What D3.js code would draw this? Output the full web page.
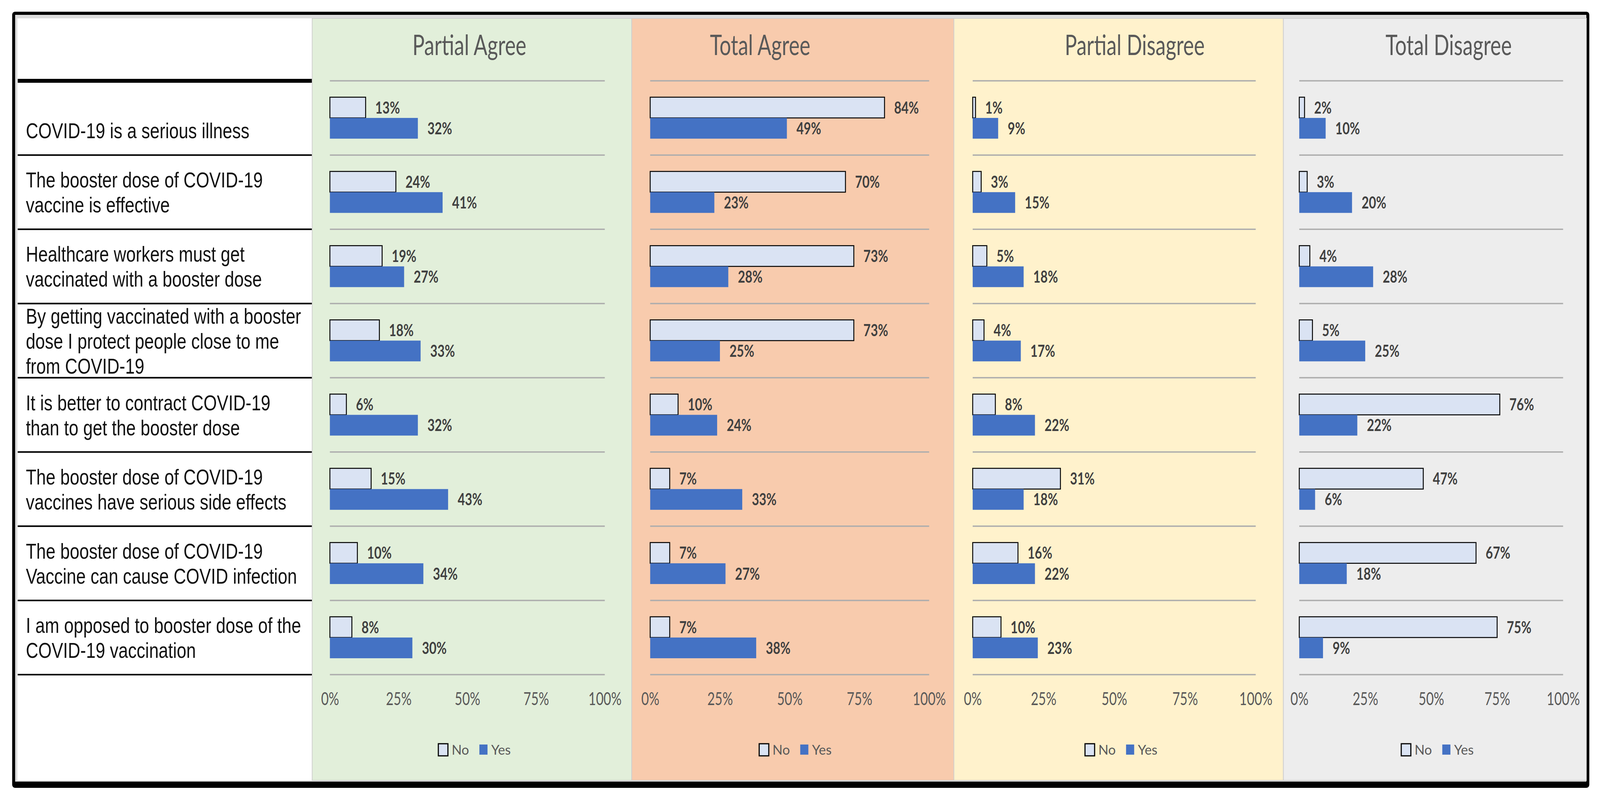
<!DOCTYPE html>
<html>
<head>
<meta charset="utf-8">
<script src="https://cdn.jsdelivr.net/npm/d3@7"></script>
<style>
  html, body { margin: 0; padding: 0; background: #fff; overflow: hidden; }
  #chart svg { display: block; width: 100vw; height: 100vh; }
</style>
</head>
<body>
<div id="chart"></div>
<script>
// Statements (row labels, one entry per line)
const statements = [
  ['', 'COVID-19 is a serious illness'],
  ['The booster dose of COVID-19', 'vaccine is effective'],
  ['Healthcare workers must get', 'vaccinated with a booster dose'],
  ['By getting vaccinated with a booster', 'dose I protect people close to me', 'from COVID-19'],
  ['It is better to contract COVID-19', 'than to get the booster dose'],
  ['The booster dose of COVID-19', 'vaccines have serious side effects'],
  ['The booster dose of COVID-19', 'Vaccine can cause COVID infection'],
  ['I am opposed to booster dose of the', 'COVID-19 vaccination']
];

const panelTitles = ['Partial Agree', 'Total Agree', 'Partial Disagree', 'Total Disagree'];
const seriesNames = ['No', 'Yes'];
const tickValues = [0, 25, 50, 75, 100];

// percentages per panel, one value per statement
const partialAgreeNo = [13, 24, 19, 18, 6, 15, 10, 8];
const partialAgreeYes = [32, 41, 27, 33, 32, 43, 34, 30];
const totalAgreeNo = [84, 70, 73, 73, 10, 7, 7, 7];
const totalAgreeYes = [49, 23, 28, 25, 24, 33, 27, 38];
const partialDisagreeNo = [1, 3, 5, 4, 8, 31, 16, 10];
const partialDisagreeYes = [9, 15, 18, 17, 22, 18, 22, 23];
const totalDisagreeNo = [2, 3, 4, 5, 76, 47, 67, 75];
const totalDisagreeYes = [10, 20, 28, 25, 22, 6, 18, 9];

const panelSeries = [
  [partialAgreeNo, partialAgreeYes],
  [totalAgreeNo, totalAgreeYes],
  [partialDisagreeNo, partialDisagreeYes],
  [totalDisagreeNo, totalDisagreeYes]
];

// layout
const W = 4336, H = 2044;
const panelEdges = [846, 1712, 2585, 3478, 4299];
const plotLeft = [894, 1762, 2636, 3521];
const plotRight = [1639, 2518, 3403, 4236];
const titleX = [1272, 2060, 3075, 3926];
const panelFill = ['#E2EFDA', '#F8CBAD', '#FFF2CC', '#EDEDED'];
const colorNo = '#DAE3F3';
const colorYes = '#4472C4';
const calibri = 'Lato, "Open Sans", sans-serif';
const arial = '"Liberation Sans", Arial, sans-serif';

// viewBox keeps the whole chart in the window whatever its css size
const svg = d3.select('#chart')
    .append('svg')
    .attr('viewBox', `0 0 ${W} ${H}`)
    .attr('preserveAspectRatio', 'none');

// horizontal squeeze so text widths match the reference
function fitScale(family, size, weight, sample, target) {
  const t = svg.append('text')
      .attr('font-family', family)
      .attr('font-size', size)
      .attr('font-weight', weight)
      .text(sample);
  const w = t.node().getComputedTextLength();
  t.remove();
  return target / w;
}

const sTitle = fitScale(calibri, 72, 400, 'Partial Agree', 309);
const sTick = fitScale(calibri, 46, 400, '100%', 90);
const sValue = fitScale(calibri, 42, 700, '13%', 67);
const sLegend = fitScale(calibri, 35, 400, 'Yes', 53);
const sRow = fitScale(arial, 56, 400, 'COVID-19 is a serious illness', 606);

// frame
svg.append('rect')
    .attr('x', 33).attr('y', 30)
    .attr('width', 4274).attr('height', 1988)
    .attr('rx', 8)
    .attr('fill', '#000');
svg.append('rect')
    .attr('x', 41).attr('y', 38)
    .attr('width', 4258).attr('height', 1964)
    .attr('fill', '#DDDDDD');
svg.append('rect')
    .attr('x', 47).attr('y', 47)
    .attr('width', panelEdges[0] - 47).attr('height', 1952)
    .attr('fill', '#fff');

// rows
const y = d3.scaleBand()
    .domain(d3.range(statements.length))
    .range([207, 1728]);
const ySub = d3.scaleBand()
    .domain(seriesNames)
    .range([0, y.bandwidth()])
    .paddingOuter(0.79);
const rowLines = d3.range(statements.length + 1).map(i => y.range()[0] + i * y.step());

// left label column
svg.append('g')
    .selectAll('line')
    .data(rowLines)
    .join('line')
    .attr('x1', 48)
    .attr('x2', panelEdges[0])
    .attr('y1', d => d)
    .attr('y2', d => d)
    .attr('stroke', '#000')
    .attr('stroke-width', (d, i) => i === 0 ? 10 : 4);

const rowFont = 56, lineH = 64;
svg.append('g')
    .selectAll('text')
    .data(statements)
    .join('text')
    .attr('transform', (d, i) => `translate(70,${y(i) + y.bandwidth() / 2}) scale(${sRow},1)`)
    .attr('font-family', arial)
    .attr('font-size', rowFont)
    .attr('fill', '#111')
    .selectAll('tspan')
    .data(d => d.map((line, j) => ({ line, j, n: d.length })))
    .join('tspan')
    .attr('x', 0)
    .attr('y', d => (d.j - (d.n - 1) / 2) * lineH + rowFont * 0.36)
    .text(d => d.line);

// panels
panelTitles.forEach((title, p) => {
  const g = svg.append('g');
  const x = d3.scaleLinear()
      .domain([0, 100])
      .range([plotLeft[p], plotRight[p]]);

  g.append('rect')
      .attr('x', panelEdges[p])
      .attr('y', 47)
      .attr('width', panelEdges[p + 1] - panelEdges[p])
      .attr('height', 1952)
      .attr('fill', panelFill[p])
      .attr('stroke', '#CFCFCF')
      .attr('stroke-width', 2);

  g.append('text')
      .attr('transform', `translate(${titleX[p]},141) scale(${sTitle},1)`)
      .attr('text-anchor', 'middle')
      .attr('font-family', calibri)
      .attr('font-size', 72)
      .attr('font-weight', 400)
      .attr('fill', '#595959')
      .text(title);

  g.append('g')
      .selectAll('line')
      .data(rowLines)
      .join('line')
      .attr('x1', x(0))
      .attr('x2', x(100))
      .attr('y1', d => d)
      .attr('y2', d => d)
      .attr('stroke', '#ADADAD')
      .attr('stroke-width', 3.5);

  const bars = panelSeries[p].flatMap((vals, s) =>
    vals.map((v, i) => ({ v, i, s: seriesNames[s] })));

  g.append('g')
      .selectAll('rect')
      .data(bars)
      .join('rect')
      .attr('x', x(0))
      .attr('y', d => y(d.i) + ySub(d.s))
      .attr('width', d => x(d.v) - x(0))
      .attr('height', ySub.bandwidth())
      .attr('fill', d => d.s === 'No' ? colorNo : colorYes)
      .attr('stroke', d => d.s === 'No' ? '#000' : 'none')
      .attr('stroke-width', 2.5);

  g.append('g')
      .selectAll('text')
      .data(bars)
      .join('text')
      .attr('transform', d => `translate(${x(d.v) + 26},${y(d.i) + ySub(d.s) + ySub.bandwidth() / 2}) scale(${sValue},1)`)
      .attr('dy', '0.36em')
      .attr('font-family', calibri)
      .attr('font-size', 42)
      .attr('font-weight', 700)
      .attr('fill', '#404040')
      .text(d => d.v + '%');

  // x axis labels
  const axis = g.append('g')
      .attr('transform', 'translate(0,1806)')
      .call(d3.axisBottom(x).tickValues(tickValues).tickFormat(d => d + '%').tickSize(0));
  axis.select('.domain').remove();
  axis.selectAll('text')
      .attr('y', 0)
      .attr('dy', 0)
      .attr('transform', `scale(${sTick},1)`)
      .attr('font-family', calibri)
      .attr('font-size', 46)
      .attr('fill', '#595959');

  // legend
  const lg = g.append('g');
  const cx = (panelEdges[p] + panelEdges[p + 1]) / 2 + 7;
  const items = [];
  let pos = 0;
  seriesNames.forEach(name => {
    const t = lg.append('text')
        .attr('font-family', calibri)
        .attr('font-size', 35)
        .attr('fill', '#595959')
        .text(name);
    const tw = t.node().getComputedTextLength() * sLegend;
    const sw = name === 'No' ? 26 : 22;
    items.push({ name, t, sw, start: pos });
    pos += sw + 10 + tw + 28;
  });
  const total = pos - 28;
  items.forEach(it => {
    const x0 = cx - total / 2 + it.start;
    lg.append('rect')
        .attr('x', x0)
        .attr('y', it.name === 'No' ? 1905 : 1907)
        .attr('width', it.sw)
        .attr('height', it.name === 'No' ? 31 : 26)
        .attr('fill', it.name === 'No' ? colorNo : colorYes)
        .attr('stroke', it.name === 'No' ? '#000' : 'none')
        .attr('stroke-width', 3);
    it.t.attr('transform', `translate(${x0 + it.sw + 10},1933) scale(${sLegend},1)`);
  });
});
</script>
</body>
</html>
